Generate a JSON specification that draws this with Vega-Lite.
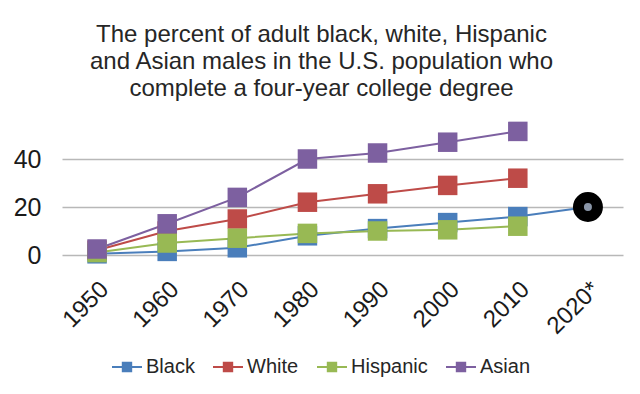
{
  "$schema": "https://vega.github.io/schema/vega-lite/v6.json",
  "width": 561,
  "height": 132,
  "autosize": {"type": "none"},
  "padding": {"left": 62, "top": 123, "right": 17, "bottom": 139},
  "background": "white",
  "title": {
    "text": ["The percent of adult black, white, Hispanic", "and Asian males in the U.S. population who", "complete a four-year college degree"],
    "font": "Liberation Sans",
    "fontSize": 24,
    "fontWeight": "normal",
    "color": "#262626",
    "lineHeight": 27,
    "anchor": "middle",
    "frame": "group",
    "dx": -21,
    "offset": 21
  },
  "data": {
    "values": [
      {"year": "1950", "race": "Black", "value": 0.5},
      {"year": "1960", "race": "Black", "value": 1.5},
      {"year": "1970", "race": "Black", "value": 3},
      {"year": "1980", "race": "Black", "value": 8},
      {"year": "1990", "race": "Black", "value": 11},
      {"year": "2000", "race": "Black", "value": 13.5},
      {"year": "2010", "race": "Black", "value": 16},
      {"year": "2020*", "race": "Black", "value": 20},
      {"year": "1950", "race": "White", "value": 2},
      {"year": "1960", "race": "White", "value": 10},
      {"year": "1970", "race": "White", "value": 15},
      {"year": "1980", "race": "White", "value": 22},
      {"year": "1990", "race": "White", "value": 25.5},
      {"year": "2000", "race": "White", "value": 29},
      {"year": "2010", "race": "White", "value": 32},
      {"year": "1950", "race": "Hispanic", "value": 1},
      {"year": "1960", "race": "Hispanic", "value": 5},
      {"year": "1970", "race": "Hispanic", "value": 7},
      {"year": "1980", "race": "Hispanic", "value": 9},
      {"year": "1990", "race": "Hispanic", "value": 10},
      {"year": "2000", "race": "Hispanic", "value": 10.5},
      {"year": "2010", "race": "Hispanic", "value": 12},
      {"year": "1950", "race": "Asian", "value": 2.5},
      {"year": "1960", "race": "Asian", "value": 13},
      {"year": "1970", "race": "Asian", "value": 24},
      {"year": "1980", "race": "Asian", "value": 40},
      {"year": "1990", "race": "Asian", "value": 42.5},
      {"year": "2000", "race": "Asian", "value": 47},
      {"year": "2010", "race": "Asian", "value": 51.5}
    ]
  },
  "encoding": {
    "x": {
      "field": "year",
      "type": "ordinal",
      "scale": {"type": "point", "padding": 0.5},
      "axis": {
        "title": null,
        "domain": false,
        "ticks": false,
        "labelAngle": -45,
        "labelFont": "Liberation Sans",
        "labelFontSize": 24,
        "labelColor": "#1a1a1a",
        "labelPadding": 22,
        "labelOffset": -1
      }
    },
    "y": {
      "field": "value",
      "type": "quantitative",
      "scale": {"domain": [0, 55], "nice": false},
      "axis": {
        "title": null,
        "values": [0, 20, 40],
        "domain": false,
        "ticks": false,
        "grid": true,
        "gridColor": "#b8b8b8",
        "gridWidth": 1.5,
        "labelFont": "Liberation Sans",
        "labelFontSize": 25,
        "labelColor": "#1a1a1a",
        "labelPadding": 21
      }
    },
    "color": {
      "field": "race",
      "type": "nominal",
      "sort": ["Black", "White", "Hispanic", "Asian"],
      "scale": {
        "domain": ["Black", "White", "Hispanic", "Asian"],
        "range": ["#4a7ebb", "#be4b48", "#98b954", "#7d60a0"]
      },
      "legend": {
        "title": null,
        "orient": "none",
        "direction": "horizontal",
        "legendX": 49,
        "legendY": 228,
        "labelFont": "Liberation Sans",
        "labelFontSize": 20,
        "labelColor": "#262626",
        "symbolType": "M-1,0H1M-0.28,-0.28H0.28V0.28H-0.28Z",
        "symbolSize": 900,
        "symbolStrokeWidth": 2,
        "columnPadding": 14,
        "labelOffset": 3
      }
    }
  },
  "layer": [
    {
      "mark": {"type": "line", "strokeWidth": 2},
      "encoding": {
        "order": {"field": "year"}
      }
    },
    {
      "transform": [{"filter": "datum.year != '2020*'"}],
      "mark": {"type": "point", "shape": "square", "filled": true, "size": 380, "opacity": 1, "strokeWidth": 0}
    },
    {
      "transform": [{"filter": "datum.year == '2020*'"}],
      "mark": {"type": "point", "shape": "circle", "filled": true, "size": 361, "opacity": 1, "fill": "#8a96a8", "stroke": "#000000", "strokeWidth": 11}
    }
  ],
  "config": {
    "view": {"stroke": null}
  }
}
